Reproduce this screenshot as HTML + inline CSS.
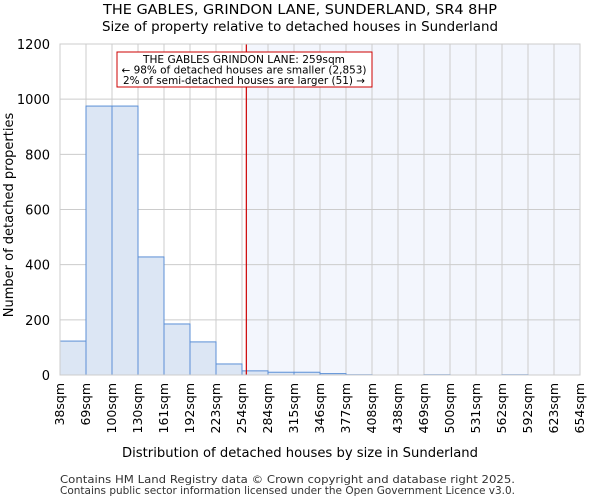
<!DOCTYPE html>
<html><head><meta charset="utf-8"><style>
body{margin:0;background:#fff;font-family:"DejaVu Sans","Liberation Sans",sans-serif;}
</style></head><body>
<svg width="600" height="500" xmlns="http://www.w3.org/2000/svg" font-family="DejaVu Sans, Liberation Sans, sans-serif">
<text x="300" y="14" text-anchor="middle" font-size="13" textLength="394" lengthAdjust="spacingAndGlyphs">THE GABLES, GRINDON LANE, SUNDERLAND, SR4 8HP</text>
<text x="300" y="31" text-anchor="middle" font-size="13" textLength="396" lengthAdjust="spacingAndGlyphs">Size of property relative to detached houses in Sunderland</text>
<g id="plot"></g>
<text x="300" y="457" text-anchor="middle" font-size="13" textLength="356" lengthAdjust="spacingAndGlyphs">Distribution of detached houses by size in Sunderland</text>
<text x="13" y="215" text-anchor="middle" font-size="13" transform="rotate(-90 13 215)">Number of detached properties</text>
<text x="60" y="483" font-size="10.5" fill="#333" textLength="455" lengthAdjust="spacingAndGlyphs">Contains HM Land Registry data © Crown copyright and database right 2025.</text>
<text x="60" y="494" font-size="10.5" fill="#333" textLength="455" lengthAdjust="spacingAndGlyphs">Contains public sector information licensed under the Open Government Licence v3.0.</text>
</svg>
<script>
const categories=["38sqm","69sqm","100sqm","130sqm","161sqm","192sqm","223sqm","254sqm","284sqm","315sqm","346sqm","377sqm","408sqm","438sqm","469sqm","500sqm","531sqm","562sqm","592sqm","623sqm","654sqm"];
const counts=[123,975,975,428,185,120,40,15,10,10,5,1,0,0,1,0,0,1,0,0];
const yTicks=[0,200,400,600,800,1000,1200];
const markerValue=259;
const markerBin=7, markerBinStart=254, markerBinEnd=284;
const NS="http://www.w3.org/2000/svg";
const g=document.getElementById('plot');
const X0=60,X1=580,Y0=375,Y1=44,YMAX=1200;
const bw=(X1-X0)/counts.length;
const xb=i=>X0+i*bw;
const y=v=>Y0-(v/YMAX)*(Y0-Y1);
function mk(t,a){const e=document.createElementNS(NS,t);for(const k in a)e.setAttribute(k,a[k]);g.appendChild(e);return e;}
const mx=xb(markerBin)+(markerValue-markerBinStart)/(markerBinEnd-markerBinStart)*bw;
let e=mk('rect',{x:mx,y:Y1,width:X1-mx,height:Y0-Y1,fill:'#f3f6fd'});


for(const t of yTicks){
 e=mk('line',{x1:X0,x2:X1,y1:y(t),y2:y(t),stroke:'#ccc'});
 
 
 e=mk('text',{x:X0-10,y:y(t)+5,'text-anchor':'end','font-size':'13'});e.textContent=t;
 
 
}
for(let i=0;i<=counts.length;i++){
 e=mk('line',{x1:xb(i),x2:xb(i),y1:Y1,y2:Y0,stroke:'#ccc'});
 
 
 const tx=xb(i)+4;
 e=mk('text',{x:tx,y:Y0+8,'text-anchor':'end','font-size':'12.5',transform:`rotate(-90 ${tx} ${Y0+8})`});e.textContent=categories[i];
 
 
}
counts.forEach((c,i)=>{
 if(c<=0)return;
 e=mk('rect',{x:xb(i),y:y(c),width:bw,height:Y0-y(c),fill:'#dce6f4',stroke:'#5b8fd6','stroke-width':1});
 
 
});
e=mk('line',{x1:mx,x2:mx,y1:Y1,y2:Y0,stroke:'#cc0000','stroke-width':1.2});


e=mk('rect',{x:117,y:52,width:255,height:35,fill:'#fff',stroke:'#cc0000'});


const lines=["THE GABLES GRINDON LANE: 259sqm","← 98% of detached houses are smaller (2,853)","2% of semi-detached houses are larger (51) →"];
const lens=[202,245,242];
lines.forEach((s,i)=>{e=mk('text',{x:244,y:63+i*10.5,'text-anchor':'middle','font-size':'10.3',textLength:lens[i],lengthAdjust:'spacingAndGlyphs'});e.textContent=s;
 
 });
e=mk('rect',{x:X0,y:Y1,width:X1-X0,height:Y0-Y1,fill:'none',stroke:'#ccc'});


</script>
</body></html>
